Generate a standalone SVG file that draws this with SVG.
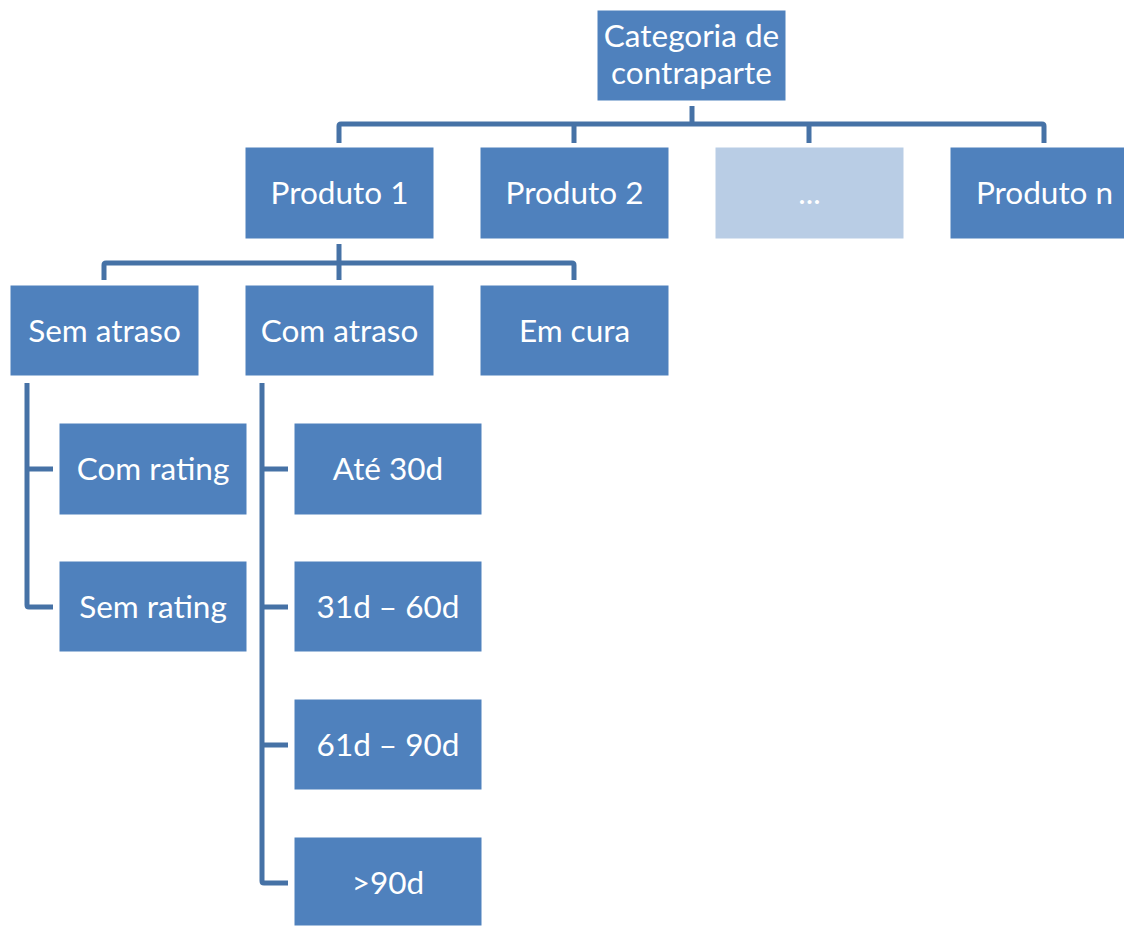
<svg xmlns="http://www.w3.org/2000/svg" width="1124" height="926" viewBox="0 0 1124 926">
<style>
.b{fill:#4F81BD;stroke:#ffffff;stroke-width:1}
.l{fill:#B9CDE5;stroke:#ffffff;stroke-width:1}
.t{font-family:Lato,"Open Sans","Liberation Sans",sans-serif;font-size:31.5px;fill:#ffffff;text-anchor:middle}
.c{fill:none;stroke:#4672A6;stroke-width:5;stroke-linejoin:round;stroke-linecap:butt}
</style>
<rect width="1124" height="926" fill="#ffffff"/>
<g id="connectors">
<path class="c" d="M692,106 V124"/>
<path class="c" d="M339,143 V126 Q339,124 341,124 H1042 Q1044,124 1044,126 V143"/>
<path class="c" d="M574,124 V143 M809,124 V143"/>
<path class="c" d="M339,244 V280"/>
<path class="c" d="M104,280 V265 Q104,263 106,263 H572 Q574,263 574,265 V280"/>
<path class="c" d="M27,383 V605 Q27,607 29,607 H53 M27,469 H53"/>
<path class="c" d="M262,383 V881 Q262,883 264,883 H288 M262,469 H288 M262,607 H288 M262,745 H288"/>
</g>
<g id="n-categoria"><rect class="b" x="597" y="10" width="189" height="91"/><text class="t" x="691.5" y="47">Categoria de</text><text class="t" x="691.5" y="84">contraparte</text></g>
<g id="n-produto1"><rect class="b" x="245" y="147" width="189" height="92"/><text class="t" x="339.5" y="204">Produto 1</text></g>
<g id="n-produto2"><rect class="b" x="480" y="147" width="189" height="92"/><text class="t" x="574.5" y="204">Produto 2</text></g>
<g id="n-etc"><rect class="l" x="715" y="147" width="189" height="92"/><text class="t" x="809.5" y="204">...</text></g>
<g id="n-produton"><rect class="b" x="950" y="147" width="189" height="92"/><text class="t" x="1044.5" y="204">Produto n</text></g>
<g id="n-sematraso"><rect class="b" x="10" y="285" width="189" height="91"/><text class="t" x="104.5" y="342">Sem atraso</text></g>
<g id="n-comatraso"><rect class="b" x="245" y="285" width="189" height="91"/><text class="t" x="339.5" y="342">Com atraso</text></g>
<g id="n-emcura"><rect class="b" x="480" y="285" width="189" height="91"/><text class="t" x="574.5" y="342">Em cura</text></g>
<g id="n-comrating"><rect class="b" x="59" y="423" width="188" height="92"/><text class="t" x="153" y="480">Com rating</text></g>
<g id="n-semrating"><rect class="b" x="59" y="561" width="188" height="91"/><text class="t" x="153" y="618">Sem rating</text></g>
<g id="n-ate30"><rect class="b" x="294" y="423" width="188" height="92"/><text class="t" x="388" y="480">Até 30d</text></g>
<g id="n-31-60"><rect class="b" x="294" y="561" width="188" height="91"/><text class="t" x="388" y="618">31d – 60d</text></g>
<g id="n-61-90"><rect class="b" x="294" y="699" width="188" height="91"/><text class="t" x="388" y="756">61d – 90d</text></g>
<g id="n-90"><rect class="b" x="294" y="837" width="188" height="89"/><text class="t" x="388" y="894">&gt;90d</text></g>
</svg>
